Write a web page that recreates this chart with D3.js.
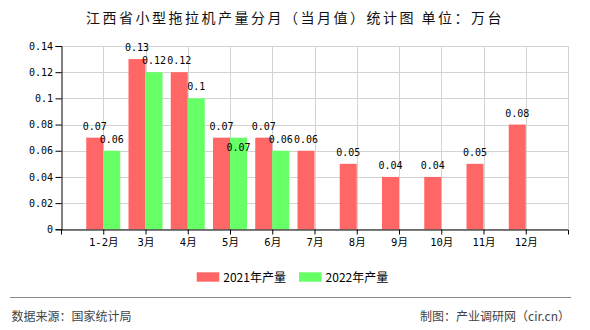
<!DOCTYPE html>
<html>
<head>
<meta charset="utf-8">
<script src="https://cdn.jsdelivr.net/npm/d3@7"></script>
<style>
  html, body { margin: 0; padding: 0; background: #fff; }
  svg { display: block; }
</style>
</head>
<body>
<svg id="chart" width="590" height="330"></svg>
<script>
// ---- data ----
const categories = ["1-2月", "3月", "4月", "5月", "6月", "7月", "8月", "9月", "10月", "11月", "12月"];
const values2021 = [0.07, 0.13, 0.12, 0.07, 0.07, 0.06, 0.05, 0.04, 0.04, 0.05, 0.08];
const values2022 = [0.06, 0.12, 0.1, 0.07, 0.06, null, null, null, null, null, null];
const yTicks = [0, 0.02, 0.04, 0.06, 0.08, 0.1, 0.12, 0.14];
const seriesNames = ["2021年产量", "2022年产量"];
const seriesColors = ["#ff6666", "#66ff66"];
const titleText = "江西省小型拖拉机产量分月（当月值）统计图 单位：万台";
const sourceText = "数据来源：国家统计局";
const creditText = "制图：产业调研网（cir.cn）";

// ---- layout ----
const plotL = 61, plotR = 568, plotT = 46, plotB = 229.3;
const barW = 17;
const monoFont = "'DejaVu Sans Mono', 'Noto Sans CJK SC', monospace";
const cjkFont = "'Noto Sans CJK SC', 'DejaVu Sans', sans-serif";

const svg = d3.select("#chart");

const x = d3.scalePoint().domain(categories).range([plotL, plotR]).padding(1);
const y = d3.scaleLinear().domain([0, 0.14]).range([plotB, plotT]);
const fmt = d => String(+(+d).toFixed(2));

// gridlines
const grid = svg.append("g").attr("stroke", "#d3d3d3").attr("stroke-width", 1);
grid.selectAll("line.h").data(yTicks).join("line")
  .attr("x1", plotL).attr("x2", plotR)
  .attr("y1", d => Math.round(y(d)) + 0.5).attr("y2", d => Math.round(y(d)) + 0.5);
grid.selectAll("line.v").data(categories.map(c => x(c)).concat([plotR])).join("line")
  .attr("x1", d => Math.round(d) + 0.5).attr("x2", d => Math.round(d) + 0.5)
  .attr("y1", plotT).attr("y2", plotB);

// bars
const series = [values2021, values2022];
series.forEach((vals, si) => {
  svg.append("g").selectAll("rect")
    .data(categories.map((c, i) => ({c, v: vals[i]})).filter(d => d.v != null))
    .join("rect")
    .attr("x", d => x(d.c) + (si === 0 ? -barW : 0))
    .attr("width", barW)
    .attr("y", d => y(d.v))
    .attr("height", d => y(0) - y(d.v))
    .attr("fill", seriesColors[si]);
});

// value labels with simple collision avoidance
const labels = [];
series.forEach((vals, si) => {
  categories.forEach((c, i) => {
    const v = vals[i];
    if (v == null) return;
    const cx = x(c) + (si === 0 ? -barW / 2 : barW / 2);
    let by = y(v) - 8;
    const txt = fmt(v);
    const w = txt.length * 6;
    labels.forEach(l => {
      if (Math.abs(l.cx - cx) < (l.w + w) / 2 - 2 && Math.abs(l.by - by) < 9) by = l.by + 21;
    });
    labels.push({cx, by, txt, w});
  });
});
svg.append("g").selectAll("text").data(labels).join("text")
  .attr("x", d => d.cx).attr("y", d => d.by)
  .attr("text-anchor", "middle")
  .attr("font-family", monoFont).attr("font-size", 10).attr("fill", "#000")
  .text(d => d.txt);

// axes
const yAxis = svg.append("g").attr("transform", `translate(${plotL + 0.5},0)`)
  .call(d3.axisLeft(y).tickValues(yTicks).tickFormat(fmt).tickSize(6).tickSizeOuter(6).tickPadding(2.5));
yAxis.selectAll("text").attr("font-family", monoFont).attr("font-size", 10).attr("fill", "#000");
yAxis.selectAll("path, line").attr("stroke", "#000");

const xAxis = svg.append("g").attr("transform", `translate(0,${Math.round(plotB) + 0.5})`)
  .call(d3.axisBottom(x).tickSize(5).tickSizeOuter(5).tickPadding(4));
xAxis.selectAll("text").attr("font-family", monoFont).attr("font-size", 10.5).attr("fill", "#000");
xAxis.selectAll("path, line").attr("stroke", "#000");

// title
svg.append("text")
  .attr("x", 295).attr("y", 23.3)
  .attr("text-anchor", "middle")
  .attr("font-family", cjkFont).attr("font-size", 14)
  .attr("letter-spacing", "2.5px")
  .attr("fill", "#111")
  .text(titleText);

// legend
const legendX = [196.7, 299];
const lg = svg.append("g");
seriesNames.forEach((name, i) => {
  lg.append("rect").attr("x", legendX[i]).attr("y", 272.3).attr("width", 22.6).attr("height", 9.4)
    .attr("fill", seriesColors[i]);
  lg.append("text").attr("x", legendX[i] + 26.6).attr("y", 282)
    .attr("font-family", cjkFont).attr("font-size", 12).attr("fill", "#000")
    .text(name);
});

// footer
svg.append("line").attr("x1", 10).attr("x2", 571).attr("y1", 297.5).attr("y2", 297.5)
  .attr("stroke", "#888").attr("stroke-width", 1);
svg.append("text").attr("x", 11.5).attr("y", 320.5)
  .attr("font-family", cjkFont).attr("font-size", 12).attr("fill", "#444")
  .text(sourceText);
svg.append("text").attr("x", 570).attr("y", 320.5).attr("text-anchor", "end")
  .attr("font-family", cjkFont).attr("font-size", 12).attr("fill", "#444")
  .text(creditText);
</script>
</body>
</html>
